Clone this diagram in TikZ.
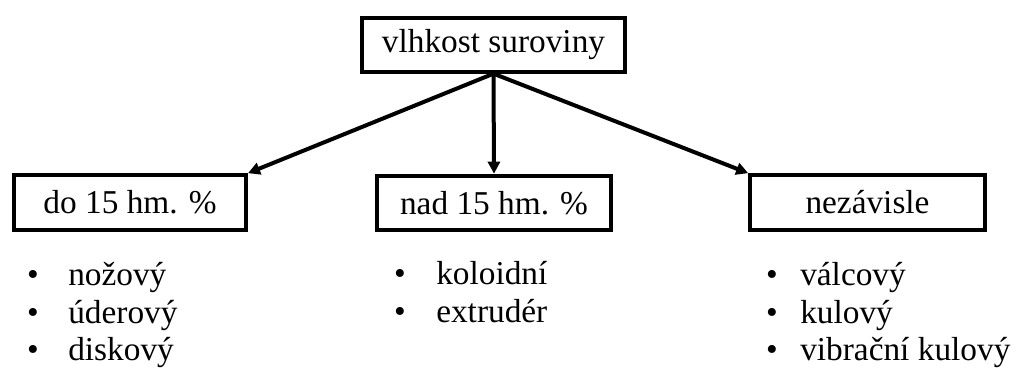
\documentclass[tikz,border=0pt]{standalone}
\usepackage{fontspec}
\setmainfont{Liberation Serif}
\usetikzlibrary{arrows.meta}
\begin{document}
\begin{tikzpicture}[x=0.75pt,y=-0.75pt,
  box/.style={draw=black,line width=3pt,inner sep=0pt,font=\fontsize{25}{30}\selectfont},
  item/.style={anchor=base west,inner sep=0pt,font=\fontsize{25}{30}\selectfont},
  bul/.style={anchor=base,inner sep=0pt,font=\fontsize{25}{30}\selectfont},
  arr/.style={line width=3pt,-{Triangle[length=9pt,width=9pt]}}]
\useasboundingbox (0,0) rectangle (1024,369);
\node[box,minimum width=197pt,minimum height=40pt] (top) at (493.5,45) {vlhkost suroviny};
\node[box,minimum width=174pt,minimum height=41pt] (left) at (130,202.5) {do 15 hm. \%};
\node[box,minimum width=175.5pt,minimum height=41pt] (mid) at (494,203) {nad 15 hm. \%};
\node[box,minimum width=176pt,minimum height=41pt] (right) at (867.5,202.5) {nezávisle};
\draw[arr] (top.south) -- (left.north east);
\draw[arr] (top.south) -- (mid.north);
\draw[arr] (top.south) -- (right.north west);
% left list
\node[bul] (lb1) at (33,285) {•};
\node[item] (l1) at (68,285) {nožový};
\node[bul] (lb2) at (33,323) {•};
\node[item] (l2) at (68,323) {úderový};
\node[bul] (lb3) at (33,360) {•};
\node[item] (l3) at (68,360) {diskový};
% middle list
\node[bul] (mb1) at (400,284) {•};
\node[item] (m1) at (436,284) {koloidní};
\node[bul] (mb2) at (400,322) {•};
\node[item] (m2) at (436,322) {extrudér};
% right list
\node[bul] (rb1) at (772,285) {•};
\node[item] (r1) at (800,285) {válcový};
\node[bul] (rb2) at (772,323) {•};
\node[item] (r2) at (800,323) {kulový};
\node[bul] (rb3) at (772,360) {•};
\node[item] (r3) at (800,360) {vibrační kulový};
\end{tikzpicture}
\end{document}
